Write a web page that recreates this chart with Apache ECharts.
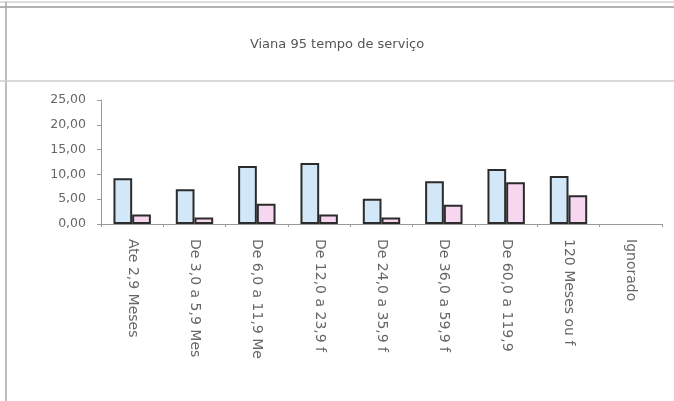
<!DOCTYPE html>
<html>
<head>
<meta charset="utf-8">
<script src="https://cdn.jsdelivr.net/npm/echarts@6/dist/echarts.min.js"></script>
<style>
  html, body { margin: 0; padding: 0; background: #fff; }
  #main { width: 674px; height: 401px; }
</style>
</head>
<body>
<div id="main"></div>
<script>
// dados
var categorias = ['Ate 2,9 Meses', 'De 3,0 a 5,9 Mes', 'De 6,0 a 11,9 Me', 'De 12,0 a 23,9 f',
                  'De 24,0 a 35,9 f', 'De 36,0 a 59,9 f', 'De 60,0 a 119,9', '120 Meses ou f', 'Ignorado'];
var serieAzul = [9.2, 7.0, 11.7, 12.3, 5.1, 8.6, 11.1, 9.7, 0];
var serieRosa = [1.9, 1.3, 4.1, 1.9, 1.3, 3.9, 8.4, 5.8, 0];
var yTicks = [0, 5, 10, 15, 20, 25];

var myChart = echarts.init(document.getElementById('main'));
var fonte = '"DejaVu Sans", Verdana, sans-serif';

// barras com valor zero nao mostram contorno (como no original)
function barras(lista, cor) {
    return lista.map(function (v) {
        return { value: v, itemStyle: { color: cor, borderColor: '#2b2b2b', borderWidth: v === 0 ? 0 : 2 } };
    });
}

myChart.setOption({
    animation: false,
    title: {
        text: 'Viana 95 tempo de serviço',
        left: 'center',
        top: 33,
        textStyle: { fontFamily: fonte, fontSize: 13, fontWeight: 'normal', color: '#555' }
    },
    grid: { left: 101, right: 12, top: 100, bottom: 177 },
    xAxis: {
        type: 'category',
        data: categorias,
        axisLine: { lineStyle: { color: '#999', width: 1 } },
        axisTick: { show: true, length: 3, lineStyle: { color: '#999' } },
        axisLabel: {
            rotate: -90,
            margin: 15,
            fontFamily: fonte,
            fontSize: 14,
            color: '#666'
        }
    },
    yAxis: {
        type: 'value',
        min: yTicks[0],
        max: yTicks[yTicks.length - 1],
        interval: 5,
        splitLine: { show: false },
        axisLine: { show: true, lineStyle: { color: '#999' } },
        axisTick: { show: true, length: 4, lineStyle: { color: '#999' } },
        axisLabel: {
            margin: 15,
            fontFamily: fonte,
            fontSize: 12.5,
            color: '#666',
            formatter: function (v) { return v.toFixed(2).replace('.', ','); }
        }
    },
    series: [
        {
            name: 'azul',
            type: 'bar',
            data: barras(serieAzul, '#d2e8f8'),
            barGap: '0%',
            barCategoryGap: '40%'
        },
        {
            name: 'rosa',
            type: 'bar',
            data: barras(serieRosa, '#f7d7ef')
        }
    ],
    graphic: [
        // moldura da folha digitalizada
        { type: 'line', shape: { x1: 0, y1: 2, x2: 674, y2: 2 }, style: { stroke: '#bbb', lineWidth: 1 } },
        { type: 'line', shape: { x1: 0, y1: 7, x2: 674, y2: 7 }, style: { stroke: '#999', lineWidth: 1.5 } },
        { type: 'line', shape: { x1: 6, y1: 2, x2: 6, y2: 401 }, style: { stroke: '#aaa', lineWidth: 1.5 } },
        { type: 'line', shape: { x1: 0, y1: 81, x2: 674, y2: 81 }, style: { stroke: '#ccc', lineWidth: 1.5 } }
    ]
});
</script>
</body>
</html>
